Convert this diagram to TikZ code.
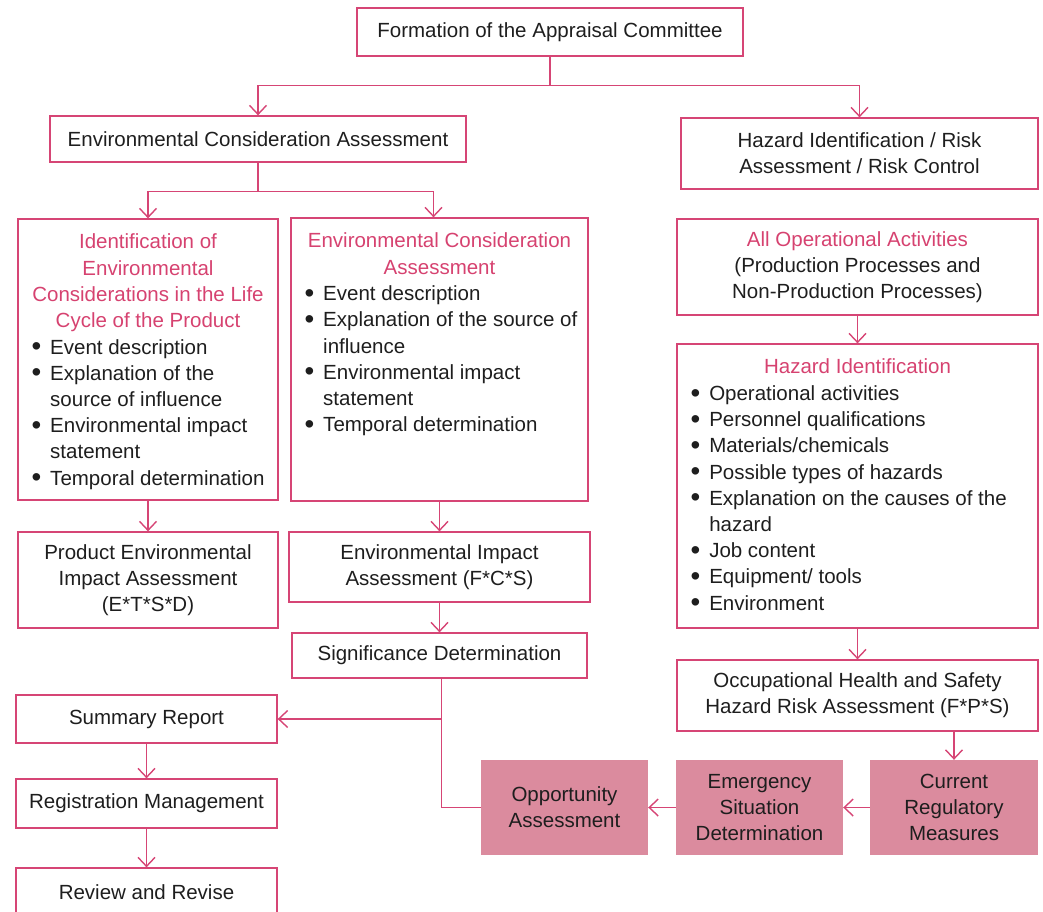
\documentclass[tikz,border=0pt]{standalone}
\usepackage{fontspec}
\setmainfont{Liberation Sans}
\usetikzlibrary{positioning,arrows.meta}

\definecolor{rose}{RGB}{214,69,117}
\definecolor{rosetext}{RGB}{214,66,112}
\definecolor{rosefill}{RGB}{219,139,158}
\definecolor{ink}{RGB}{30,30,30}

\newcommand{\ttl}[1]{\textcolor{rosetext}{#1}}
\newcommand{\dotb}{\raisebox{-1.6pt}{\scalebox{1.35}{\textbullet}}}

\tikzset{
  box/.style={draw=rose,line width=1.3pt,inner sep=0pt,align=center,text=ink},
  fillbox/.style={fill=rosefill,inner sep=0pt,align=center,text=ink},
  txt/.style={inner sep=0pt,text=ink},
  flow/.style={draw=rose,line width=1.4pt,-{Straight Barb[length=9pt,width=17pt]}},
  link/.style={draw=rose,line width=1.4pt},
}

\begin{document}
\begin{tikzpicture}[x=1pt,y=-1pt,font=\fontsize{20.5}{26.2}\selectfont]
  \useasboundingbox (0,0) rectangle (1043,911);

  % top of the chart
  \node[box,minimum width=386pt,minimum height=48pt] (form) at (550,32) {Formation of the Appraisal Committee};
  \node[box,minimum width=416pt,minimum height=46pt] (eca) at (258,139) {Environmental Consideration Assessment};
  \node[box,minimum width=357pt,minimum height=71pt] (hirc) at (859.5,153.5) {Hazard Identification / Risk\\Assessment / Risk Control};

  % environmental side
  \node[box,minimum width=260pt,minimum height=281pt] (lca) at (148,359.5) {};
  \node[txt,below=12pt of lca.north] (lcattl) {\begin{tabular}{@{}c@{}}
    \ttl{Identification of}\\
    \ttl{Environmental}\\
    \ttl{Considerations in the Life}\\
    \ttl{Cycle of the Product}
  \end{tabular}};
  \node[txt,anchor=north west] (lcalist) at ([xshift=14pt]lca.west |- lcattl.south) {\begin{tabular}{@{}l@{\hspace{9pt}}l@{}}
    \dotb & Event description\\
    \dotb & Explanation of the\\
          & source of influence\\
    \dotb & Environmental impact\\
          & statement\\
    \dotb & Temporal determination
  \end{tabular}};

  \node[box,minimum width=297pt,minimum height=283pt] (ecl) at (439.5,359.5) {};
  \node[txt,below=12pt of ecl.north] (eclttl) {\begin{tabular}{@{}c@{}}
    \ttl{Environmental Consideration}\\
    \ttl{Assessment}
  \end{tabular}};
  \node[txt,anchor=north west] (ecllist) at ([xshift=14pt]ecl.west |- eclttl.south) {\begin{tabular}{@{}l@{\hspace{9pt}}l@{}}
    \dotb & Event description\\
    \dotb & Explanation of the source of\\
          & influence\\
    \dotb & Environmental impact\\
          & statement\\
    \dotb & Temporal determination
  \end{tabular}};

  \node[box,minimum width=260pt,minimum height=96pt] (peia) at (148,580) {Product Environmental\\Impact Assessment\\(E*T*S*D)};
  \node[box,minimum width=301pt,minimum height=70pt] (eia) at (439.5,567) {Environmental Impact\\Assessment (F*C*S)};
  \node[box,minimum width=295pt,minimum height=45pt] (sig) at (439.5,655.5) {Significance Determination};

  \node[box,minimum width=261pt,minimum height=48pt] (summ) at (146.5,719) {Summary Report};
  \node[box,minimum width=261pt,minimum height=49pt] (regm) at (146.5,803.5) {Registration Management};
  \node[box,minimum width=261pt,minimum height=48pt] (rev) at (146.5,892) {Review and Revise};

  % safety side
  \node[box,minimum width=361pt,minimum height=96pt] (opact) at (857.5,267) {\ttl{All Operational Activities}\\(Production Processes and\\Non-Production Processes)};

  \node[box,minimum width=361pt,minimum height=284pt] (hazid) at (857.5,486) {};
  \node[txt,below=12pt of hazid.north] (hazttl) {\begin{tabular}{@{}c@{}}
    \ttl{Hazard Identification}
  \end{tabular}};
  \node[txt,anchor=north west] (hazlist) at ([xshift=14pt]hazid.west |- hazttl.south) {\begin{tabular}{@{}l@{\hspace{9pt}}l@{}}
    \dotb & Operational activities\\
    \dotb & Personnel qualifications\\
    \dotb & Materials/chemicals\\
    \dotb & Possible types of hazards\\
    \dotb & Explanation on the causes of the\\
          & hazard\\
    \dotb & Job content\\
    \dotb & Equipment/ tools\\
    \dotb & Environment
  \end{tabular}};

  \node[box,minimum width=361pt,minimum height=71pt] (ohs) at (857.5,695.5) {Occupational Health and Safety\\Hazard Risk Assessment (F*P*S)};

  \node[fillbox,minimum width=167pt,minimum height=95pt] (opp) at (564.5,807.5) {Opportunity\\Assessment};
  \node[fillbox,minimum width=167pt,minimum height=95pt] (emer) at (759.5,807.5) {Emergency\\Situation\\Determination};
  \node[fillbox,minimum width=168pt,minimum height=95pt] (curr) at (954,807.5) {Current\\Regulatory\\Measures};

  % connectors
  \draw[flow] (form.south) -- ++(0,29) -| (eca.north);
  \draw[flow] (form.south) -- ++(0,29) -| (hirc.north);
  \draw[flow] (eca.south) -- ++(0,29) -| (lca.north);
  \draw[flow] (eca.south) -- ++(0,29) -| ([xshift=-6pt]ecl.north);
  \draw[flow] (lca.south) -- (peia.north);
  \draw[flow] (ecl.south) -- (eia.north);
  \draw[flow] (eia.south) -- (sig.north);

  \coordinate (tee) at ([xshift=2pt]sig.south |- summ.east);
  \draw[link] ([xshift=2pt]sig.south) |- (opp.west);
  \draw[flow] (tee) -- (summ.east);
  \draw[flow] (summ.south) -- (regm.north);
  \draw[flow] (regm.south) -- (rev.north);

  \draw[flow] (opact.south) -- (hazid.north);
  \draw[flow] (hazid.south) -- (ohs.north);
  \draw[flow] (ohs.south -| curr.north) -- (curr.north);
  \draw[flow] (curr.west) -- (emer.east);
  \draw[flow] (emer.west) -- (opp.east);
\end{tikzpicture}
\end{document}
